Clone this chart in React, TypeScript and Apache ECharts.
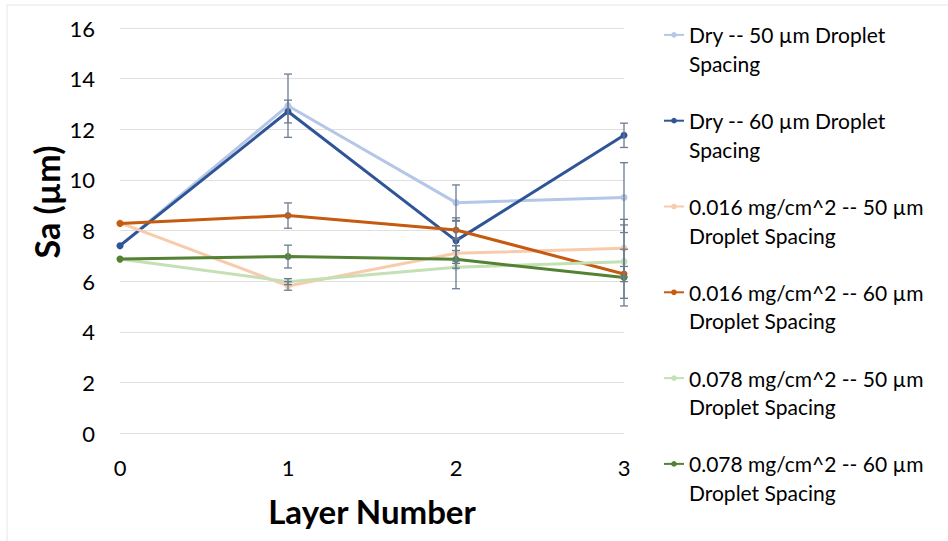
import React, { useEffect, useRef } from "react";
import * as echarts from "echarts";

const layers = [0, 1, 2, 3];
const yTicks = [0, 2, 4, 6, 8, 10, 12, 14, 16];

const seriesNames = [
  "Dry -- 50 µm Droplet\nSpacing",
  "Dry -- 60 µm Droplet\nSpacing",
  "0.016 mg/cm^2 -- 50 µm\nDroplet Spacing",
  "0.016 mg/cm^2 -- 60 µm\nDroplet Spacing",
  "0.078 mg/cm^2 -- 50 µm\nDroplet Spacing",
  "0.078 mg/cm^2 -- 60 µm\nDroplet Spacing",
];

const xTitle = "Layer Number";
const yTitle = "Sa (µm)";

const dry50 = [7.4, 12.93, 9.1, 9.3];
const dry60 = [7.4, 12.7, 7.6, 11.76];
const c016_50 = [8.3, 5.81, 7.1, 7.3];
const c016_60 = [8.28, 8.59, 8.02, 6.28];
const c078_50 = [6.87, 5.98, 6.55, 6.77];
const c078_60 = [6.87, 6.97, 6.86, 6.14];

const err_dry50 = [0, 1.25, 0.7, 1.38];
const err_dry60 = [0, 0.45, 0.9, 0.48];
const err_016_50 = [0, 0.17, 0.3, 1.14];
const err_016_60 = [0, 0.5, 0.35, 0.3];
const err_078_50 = [0, 0.12, 0.85, 1.45];
const err_078_60 = [0, 0.45, 0.35, 1.12];

const values = [dry50, dry60, c016_50, c016_60, c078_50, c078_60];
const errors = [err_dry50, err_dry60, err_016_50, err_016_60, err_078_50, err_078_60];
const colors = ["#b4c7e7", "#2f5597", "#f8cbad", "#c55a11", "#c5e0b4", "#548235"];

const FONT = "Lato";

export default function App() {
  const ref = useRef<HTMLDivElement>(null);
  useEffect(() => {
    if (!ref.current) return;
    const chart = echarts.init(ref.current, null, { renderer: "svg" });

    const lineSeries = values.map((vals, i) => ({
      name: seriesNames[i],
      type: "line",
      data: layers.map((x, j) => [x, vals[j]]),
      symbol: "circle",
      symbolSize: 7,
      lineStyle: { width: 3, color: colors[i] },
      itemStyle: { color: colors[i] },
      z: 3 + i,
    }));

    const errData: number[][] = [];
    values.forEach((vals, i) => {
      layers.forEach((x, j) => {
        const e = errors[i][j];
        if (e > 0) errData.push([x, vals[j] - e, vals[j] + e]);
      });
    });

    const errSeries = {
      type: "custom",
      name: "err",
      data: errData,
      z: 10,
      renderItem: (params: any, api: any) => {
        const x = api.value(0);
        const lo = api.coord([x, api.value(1)]);
        const hi = api.coord([x, api.value(2)]);
        const w = 4;
        const style = { stroke: "#6a7c92", lineWidth: 1.3, fill: "none" };
        return {
          type: "group",
          children: [
            { type: "line", shape: { x1: lo[0], y1: lo[1], x2: hi[0], y2: hi[1] }, style },
            { type: "line", shape: { x1: lo[0] - w, y1: lo[1], x2: lo[0] + w, y2: lo[1] }, style },
            { type: "line", shape: { x1: hi[0] - w, y1: hi[1], x2: hi[0] + w, y2: hi[1] }, style },
          ],
        };
      },
    };

    chart.setOption({
      animation: false,
      backgroundColor: "#ffffff",
      textStyle: { fontFamily: FONT },
      graphic: [
        {
          type: "rect",
          shape: { x: 7, y: 5, width: 960, height: 560 },
          style: { fill: "none", stroke: "#e6e6e6", lineWidth: 1 },
          silent: true,
        },
        {
          type: "text",
          x: 46,
          y: 202,
          rotation: Math.PI / 2,
          style: {
            text: yTitle,
            fontFamily: FONT,
            fontSize: 34,
            fontWeight: "bold",
            fill: "#000",
            align: "center",
            verticalAlign: "middle",
          },
        },
      ],
      grid: { left: 120, right: 324, top: 28, bottom: 108, containLabel: false },
      xAxis: {
        type: "value",
        min: 0,
        max: 3,
        interval: 1,
        name: xTitle,
        nameLocation: "middle",
        nameGap: 61,
        nameTextStyle: { fontFamily: FONT, fontSize: 33, fontWeight: "bold", color: "#000" },
        axisLine: { show: false },
        axisTick: { show: false },
        splitLine: { show: false },
        axisLabel: {
          fontFamily: FONT,
          fontSize: 22,
          color: "#000",
          margin: 23,
          formatter: (v: number) => (layers.includes(v) ? String(v) : ""),
        },
      },
      yAxis: {
        type: "value",
        min: 0,
        max: 16,
        interval: 2,
        axisLine: { show: false },
        axisTick: { show: false },
        splitLine: { show: true, lineStyle: { color: "#e0e0e0", width: 1 } },
        axisLabel: {
          fontFamily: FONT,
          fontSize: 22,
          color: "#000",
          margin: 25,
          formatter: (v: number) => (yTicks.includes(v) ? String(v) : ""),
        },
      },
      legend: {
        orient: "vertical",
        left: 658,
        top: -13,
        itemGap: 0,
        itemWidth: 20,
        itemHeight: 7,
        data: seriesNames,
        formatter: (n: string) => "\n" + n,
        textStyle: { fontFamily: FONT, fontSize: 21, color: "#000", lineHeight: 28.6 },
      },
      series: [...lineSeries, errSeries],
    });
    return () => chart.dispose();
  }, []);
  return (
    <div
      ref={ref}
      style={{ position: "fixed", left: 0, top: 0, width: 948, height: 541 }}
    />
  );
}
